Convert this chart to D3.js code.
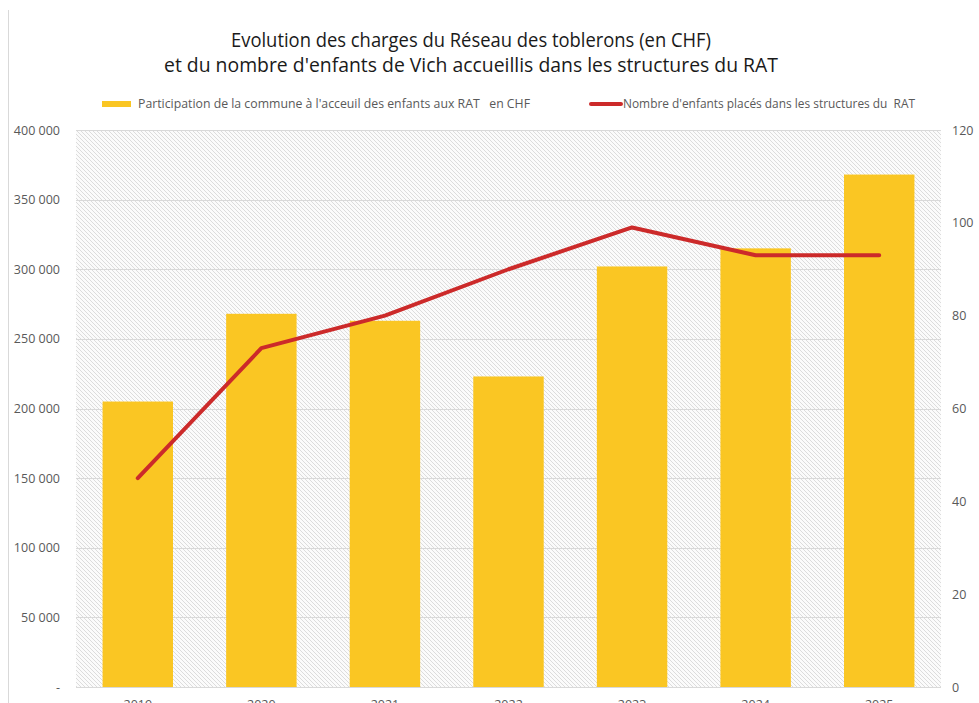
<!DOCTYPE html>
<meta charset="utf-8">
<style>
  body { margin: 0; background: #fff; }
  text { font-family: "Open Sans", "Noto Sans", sans-serif; }
  .axis text { fill: #595959; font-size: 12.5px; }
  .axis path, .axis line { display: none; }
</style>

<div class="chart"></div>

<script src="https://cdnjs.cloudflare.com/ajax/libs/d3/7.8.5/d3.min.js"></script>

<script>
    var years = ["2019", "2020", "2021", "2022", "2023", "2024", "2025"];
    var charges = [205000, 268000, 263000, 223000, 302000, 315000, 368000];
    var enfants = [45, 73, 80, 90, 99, 93, 93];
    var leftTicks = [0, 50000, 100000, 150000, 200000, 250000, 300000, 350000, 400000];
    var rightTicks = [0, 20, 40, 60, 80, 100, 120];

    var titleLines = [
        "Evolution des charges du Réseau des toblerons (en CHF)",
        "et du nombre d'enfants de Vich accueillis dans les structures du RAT"
    ];
    var legendBar = "Participation de la commune à l'acceuil des enfants aux RAT   en CHF";
    var legendLine = "Nombre d'enfants placés dans les structures du  RAT";

    var W = 979, H = 703,
        margin = {top: 130, right: 38, bottom: 16, left: 76};
    var width = W - margin.left - margin.right,
        height = H - margin.top - margin.bottom;

    var x = d3.scaleBand().domain(years).range([0, width]).paddingInner(0.43).paddingOuter(0.215);
    var yL = d3.scaleLinear().domain([0, 400000]).range([height, 0]);
    var yR = d3.scaleLinear().domain([0, 120]).range([height, 0]);

    var svg = d3.select(".chart").append("svg")
        .attr("width", W).attr("height", H);

    // hachures de fond
    var pat = svg.append("defs").append("pattern")
        .attr("id", "hatch")
        .attr("patternUnits", "userSpaceOnUse")
        .attr("width", 4).attr("height", 4);
    pat.append("rect").attr("width", 4).attr("height", 4).attr("fill", "#fbfbfb");
    pat.append("path")
        .attr("d", "M-1,-1L5,5M-1,3L1,5M3,-1L5,1")
        .attr("stroke", "#dcdcdc").attr("stroke-width", 1);

    // bordure gauche
    svg.append("line")
        .attr("x1", 8.5).attr("x2", 8.5).attr("y1", 10).attr("y2", H)
        .attr("stroke", "#d9d9d9");

    var g = svg.append("g")
        .attr("transform", "translate(" + margin.left + "," + margin.top + ")");

    g.append("rect")
        .attr("width", width).attr("height", height)
        .attr("fill", "url(#hatch)");

    g.selectAll(".grid").data(leftTicks).enter().append("line")
        .attr("class", "grid")
        .attr("x1", 0).attr("x2", width)
        .attr("y1", (d) => Math.round(yL(d)) + 0.5)
        .attr("y2", (d) => Math.round(yL(d)) + 0.5)
        .attr("stroke", "#d9d9d9");

    g.selectAll(".bar").data(charges).enter().append("rect")
        .attr("class", "bar")
        .attr("x", (d, i) => x(years[i]))
        .attr("width", x.bandwidth())
        .attr("y", (d) => yL(d))
        .attr("height", (d) => height - yL(d))
        .attr("fill", "#fac623");

    var line = d3.line()
        .x((d, i) => x(years[i]) + x.bandwidth() / 2)
        .y((d) => yR(d));

    g.append("path")
        .datum(enfants)
        .attr("d", line)
        .attr("fill", "none")
        .attr("stroke", "#cc2a2a")
        .attr("stroke-width", 4)
        .attr("stroke-linecap", "round")
        .attr("stroke-linejoin", "round");

    var fmt = (d) => d === 0 ? "-" : d3.format(",")(d).replace(/,/g, " ");

    g.append("g").attr("class", "axis")
        .call(d3.axisLeft(yL).tickValues(leftTicks).tickFormat(fmt).tickSize(0).tickPadding(16));

    g.append("g").attr("class", "axis")
        .attr("transform", "translate(" + width + ",0)")
        .call(d3.axisRight(yR).tickValues(rightTicks).tickSize(0).tickPadding(11));

    g.append("g").attr("class", "axis")
        .attr("transform", "translate(0," + height + ")")
        .call(d3.axisBottom(x).tickSize(0).tickPadding(13));

    g.append("line")
        .attr("x1", 0).attr("x2", width - 48)
        .attr("y1", height + 0.5).attr("y2", height + 0.5)
        .attr("stroke", "#d9d9d9");

    // titre
    svg.append("g").selectAll("text").data(titleLines).enter().append("text")
        .attr("x", 471)
        .attr("y", (d, i) => 47 + i * 25)
        .attr("text-anchor", "middle")
        .attr("font-size", "20px")
        .attr("fill", "#1a1a1a")
        .attr("textLength", (d, i) => i === 0 ? 480 : 614)
        .attr("lengthAdjust", "spacingAndGlyphs")
        .text((d) => d);

    // légende
    var leg = svg.append("g").attr("font-size", "12px").attr("fill", "#595959");
    leg.append("rect")
        .attr("x", 102).attr("y", 101).attr("width", 29).attr("height", 6)
        .attr("fill", "#fac623");
    leg.append("text")
        .attr("x", 138).attr("y", 108)
        .attr("xml:space", "preserve").style("white-space", "pre")
        .attr("textLength", 392).attr("lengthAdjust", "spacingAndGlyphs")
        .text(legendBar);
    leg.append("line")
        .attr("x1", 591).attr("x2", 621).attr("y1", 104).attr("y2", 104)
        .attr("stroke", "#cc2a2a").attr("stroke-width", 4).attr("stroke-linecap", "round");
    leg.append("text")
        .attr("x", 623).attr("y", 108)
        .style("white-space", "pre")
        .attr("textLength", 292).attr("lengthAdjust", "spacingAndGlyphs")
        .text(legendLine);
</script>
